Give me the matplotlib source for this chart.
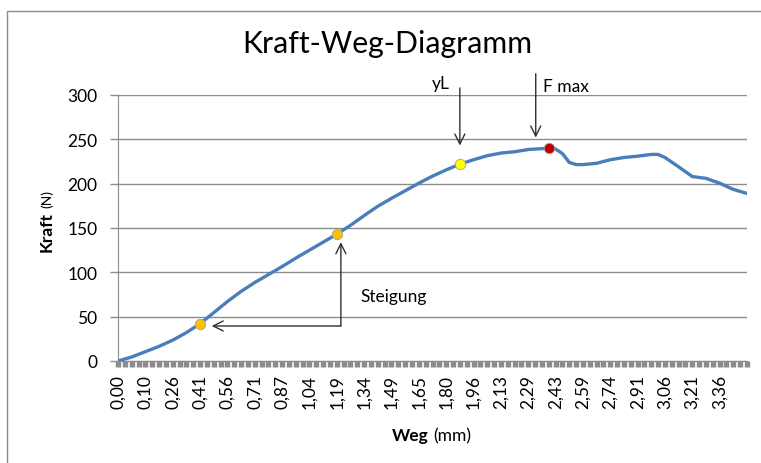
import matplotlib.pyplot as plt
from matplotlib.patches import Rectangle

plt.rcParams['font.family'] = ['Lato', 'DejaVu Sans']

# Weg labels on the category axis (one label every 4 categories)
weg_labels = ["0,00", "0,10", "0,26", "0,41", "0,56", "0,71", "0,87", "1,04", "1,19", "1,34", "1,49", "1,65",
              "1,80", "1,96", "2,13", "2,29", "2,43", "2,59", "2,74", "2,91", "3,06", "3,21", "3,36"]
n_kat = 93  # categories on the x axis

# measured curve (category index -> Kraft in N)
mess_idx = [0, 2, 4, 6, 8, 10, 12, 14, 16, 18, 20, 22, 24, 26, 28, 30, 32, 34, 36, 38, 40, 42, 44, 46, 48, 50,
            52, 54, 56, 58, 60, 62, 63, 64, 65, 66, 67, 68, 70, 72, 74, 76, 78, 79, 80, 82, 84, 86, 88, 90, 92]
kraft = [0, 4.5, 10.5, 16.5, 23.5, 32, 42, 54.5, 67, 78.5, 88.5, 97.5, 106.5, 116, 125, 134, 143, 153, 164, 174.5,
         183.5, 192, 200.5, 208.5, 215.5, 222, 227, 231.5, 234.5, 236, 238.5, 239.5, 240, 239, 234, 224, 221.5,
         221.5, 223, 227, 229.5, 231, 233, 233, 229.5, 219, 208, 206, 200.5, 193.5, 189]

# highlighted points: two for Steigung, yL, F max
punkt_idx = [12, 32, 50, 63]
punkt_kraft = [42, 143, 222, 240]
punkt_farbe = ["#FFC000", "#FFC000", "#FFFF00", "#C00000"]

fig = plt.figure(figsize=(7.61, 4.64), dpi=100)
W, H = 761, 464
# chart frame (Excel style border)
fig.patches.append(Rectangle((7 / W, -0.1), 1.1, 1 - 12 / H + 0.1, transform=fig.transFigure,
                             fill=False, edgecolor="#8c8c8c", linewidth=1))

ax = fig.add_axes([118 / W, 1 - 362 / H, (747 - 118) / W, (362 - 96) / H])
ax.plot(mess_idx, kraft, color="#4a7ebb", linewidth=2.4, solid_capstyle="round", solid_joinstyle="round", zorder=3)
for i, k, c in zip(punkt_idx, punkt_kraft, punkt_farbe):
    ax.plot(i, k, "o", markersize=7.5, markerfacecolor=c, markeredgecolor="#a0a0a0", markeredgewidth=0.6, zorder=4)

ax.set_xlim(0, n_kat - 1)
ax.set_ylim(0, 300)
ax.set_yticks(range(0, 301, 50))
ax.yaxis.grid(True, color="#8c8c8c", linewidth=1)
ax.set_axisbelow(True)
for s in ["top", "right"]: ax.spines[s].set_visible(False)
for s in ["left", "bottom"]: ax.spines[s].set_color("#8c8c8c")

ax.set_xticks(range(0, len(weg_labels) * 4, 4))
ax.set_xticklabels(weg_labels, rotation=90)
ax.set_xticks(range(n_kat), minor=True)
ax.tick_params(axis="x", which="both", length=4.3, width=3.9, color="#8c8c8c", pad=5, labelsize=12.5)
ax.tick_params(axis="y", length=5.8, width=1, color="#8c8c8c", pad=9, labelsize=12.5)

# axis titles
fig.text(47 / W, 1 - 252 / H, "Kraft", rotation=90, fontweight="bold", fontsize=12.5, ha="center", va="bottom")
fig.text(47 / W, 1 - 208 / H, "(N)", rotation=90, fontsize=10, ha="center", va="bottom")
fig.text(429 / W, 1 - 436 / H, "Weg", fontweight="bold", fontsize=12.5, ha="right", va="center")
fig.text(433 / W, 1 - 436 / H, "(mm)", fontsize=12.5, ha="left", va="center")
fig.text(387 / W, 1 - 44 / H, "Kraft-Weg-Diagramm", fontsize=21.8, ha="center", va="center")

# annotations
pfeil = dict(arrowstyle="->", color="#303030", linewidth=1, mutation_scale=18, shrinkA=0, shrinkB=0)
ax.annotate("", xy=(50, 243), xytext=(50, 308), arrowprops=pfeil, annotation_clip=False)
ax.text(47.2, 314, "yL", fontsize=12.5, ha="center", va="center", clip_on=False)
ax.annotate("", xy=(61.1, 252), xytext=(61.1, 324), arrowprops=pfeil, annotation_clip=False)
ax.text(62.1, 310, "F max", fontsize=12.5, ha="left", va="center", clip_on=False)
ax.annotate("", xy=(32.6, 134), xytext=(32.6, 39.5), arrowprops=pfeil)
ax.annotate("", xy=(13.7, 39.5), xytext=(32.6, 39.5), arrowprops=pfeil)
ax.text(35.5, 73, "Steigung", fontsize=12.5, ha="left", va="center")

fig.savefig("out.png", dpi=100)
